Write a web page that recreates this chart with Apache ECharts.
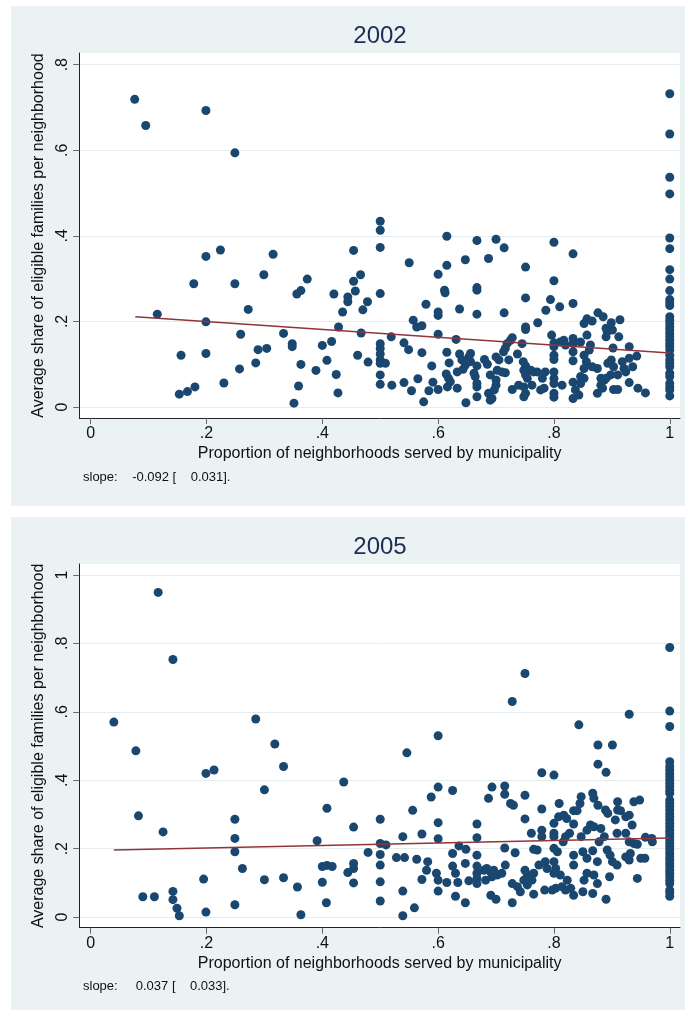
<!DOCTYPE html>
<html>
<head>
<meta charset="utf-8">
<title>Eligible families share vs. municipal coverage</title>
<script src="https://cdn.jsdelivr.net/npm/echarts@6/dist/echarts.min.js"></script>
<style>
  html, body { margin: 0; padding: 0; background: #ffffff; }
  #chart { width: 685px; height: 1010px; }
</style>
</head>
<body>
<div id="chart"></div>
<script>
// Panel titles (survey years)
const years = ['2002', '2005'];

// Axis tick values
const xTicks = [0, 0.2, 0.4, 0.6, 0.8, 1];
const yTicks2002 = [0, 0.2, 0.4, 0.6, 0.8];
const yTicks2005 = [0, 0.2, 0.4, 0.6, 0.8, 1];

// Linear fit: slope, its standard error, intercept, and fitted x-range per year
const slopes = [-0.092, 0.037];
const slopeSE = [0.031, 0.033];
const intercepts = [0.218, 0.1945];
const fitRange2002 = [0.077, 1];
const fitRange2005 = [0.040, 1];

// [proportion served by municipality, average share of eligible families]
const share2002 = [
  [0.076,0.719],[0.095,0.658],[0.199,0.693],[0.249,0.594],[0.115,0.217],[0.224,0.367],[0.199,0.352],[0.315,0.357],
  [0.178,0.288],[0.249,0.288],[0.299,0.309],[0.374,0.299],[0.272,0.228],[0.199,0.199],[0.356,0.264],[0.363,0.272],
  [0.42,0.264],[0.454,0.366],[0.466,0.309],[0.454,0.294],[0.457,0.271],[0.444,0.257],[0.444,0.246],[0.478,0.246],
  [0.435,0.222],[0.47,0.227],[0.428,0.187],[0.467,0.173],[0.259,0.170],[0.333,0.172],[0.348,0.148],[0.348,0.141],
  [0.416,0.153],[0.40,0.144],[0.156,0.121],[0.199,0.125],[0.289,0.134],[0.304,0.137],[0.285,0.103],[0.257,0.089],
  [0.363,0.0995],[0.408,0.109],[0.389,0.0855],[0.424,0.076],[0.461,0.121],[0.479,0.105],[0.23,0.056],[0.18,0.047],
  [0.167,0.036],[0.153,0.030],[0.359,0.049],[0.351,0.009],[0.427,0.033],
  [1,0.732],[1,0.638],[1,0.537],[1,0.498],[1,0.395],[1,0.370],[1,0.321],[1,0.299],[1,0.272],[1,0.251],[1,0.244],
  [1,0.237],[1,0.211],[1,0.203],[1,0.195],[1,0.187],[1,0.180],[1,0.172],[1,0.164],[1,0.156],[1,0.148],[1,0.141],
  [1,0.133],[1,0.121],[1,0.110],[1,0.102],[1,0.094],[1,0.079],[1,0.071],[1,0.055],[1,0.047],[1,0.040],[1,0.026],
  [0.5,0.434],[0.5,0.413],[0.5,0.373],[0.5,0.265],[0.5,0.148],[0.5,0.137],[0.5,0.124],[0.5,0.110],[0.5,0.102],
  [0.5,0.075],[0.5,0.053],[0.509,0.102],[0.519,0.164],[0.52,0.051],[0.541,0.057],[0.541,0.150],[0.549,0.134],
  [0.55,0.337],[0.554,0.038],[0.557,0.203],[0.563,0.187],[0.572,0.190],[0.565,0.066],[0.572,0.127],[0.575,0.012],
  [0.579,0.240],[0.584,0.038],[0.589,0.096],[0.591,0.058],[0.6,0.310],[0.6,0.222],[0.6,0.214],[0.6,0.170],[0.6,0.041],
  [0.611,0.273],[0.612,0.267],[0.615,0.399],[0.615,0.331],[0.615,0.128],[0.619,0.103],[0.614,0.077],[0.618,0.067],
  [0.621,0.059],[0.616,0.047],[0.631,0.158],[0.633,0.044],[0.637,0.229],[0.633,0.082],[0.637,0.124],[0.641,0.110],
  [0.647,0.098],[0.643,0.088],[0.647,0.344],[0.656,0.125],[0.656,0.106],[0.653,0.117],[0.648,0.010],[0.667,0.389],
  [0.667,0.279],[0.667,0.273],[0.667,0.217],[0.667,0.096],[0.667,0.055],[0.667,0.047],[0.667,0.024],[0.662,0.079],
  [0.664,0.071],[0.68,0.111],[0.685,0.100],[0.690,0.075],[0.687,0.032],[0.693,0.020],[0.690,0.016],[0.687,0.347],
  [0.7,0.392],[0.7,0.117],[0.705,0.110],[0.702,0.086],[0.7,0.063],[0.7,0.051],[0.697,0.040],[0.714,0.372],[0.714,0.220],
  [0.71,0.082],[0.716,0.080],[0.719,0.148],[0.716,0.137],[0.713,0.129],[0.725,0.156],[0.728,0.162],[0.722,0.110],
  [0.728,0.041],[0.737,0.124],[0.739,0.051],[0.745,0.148],[0.751,0.327],[0.751,0.255],[0.751,0.187],[0.751,0.181],
  [0.747,0.106],[0.751,0.096],[0.748,0.086],[0.751,0.075],[0.754,0.067],[0.748,0.047],[0.751,0.032],[0.748,0.024],
  [0.760,0.086],[0.765,0.082],[0.762,0.051],[0.772,0.197],[0.771,0.082],[0.780,0.067],[0.783,0.044],[0.777,0.040],
  [0.785,0.082],[0.786,0.226],[0.794,0.251],[0.8,0.385],[0.8,0.295],[0.796,0.168],[0.8,0.150],[0.8,0.141],[0.8,0.121],
  [0.8,0.111],[0.8,0.082],[0.8,0.067],[0.8,0.055],[0.8,0.032],[0.8,0.023],[0.810,0.234],[0.811,0.152],[0.817,0.156],
  [0.820,0.145],[0.814,0.051],[0.833,0.358],[0.833,0.242],[0.833,0.160],[0.833,0.148],[0.833,0.129],[0.833,0.108],
  [0.833,0.058],[0.833,0.020],[0.837,0.040],[0.843,0.028],[0.846,0.152],[0.852,0.195],[0.857,0.206],[0.866,0.201],
  [0.857,0.168],[0.852,0.121],[0.856,0.106],[0.852,0.090],[0.846,0.071],[0.852,0.067],[0.846,0.055],[0.863,0.145],
  [0.861,0.133],[0.875,0.090],[0.881,0.067],[0.875,0.032],[0.876,0.220],[0.885,0.211],[0.866,0.094],[0.887,0.063],
  [0.881,0.051],[0.884,0.044],[0.890,0.184],[0.892,0.176],[0.890,0.164],[0.893,0.102],[0.899,0.110],[0.903,0.094],
  [0.898,0.075],[0.890,0.067],[0.899,0.197],[0.901,0.180],[0.914,0.204],[0.902,0.138],[0.903,0.041],[0.910,0.041],
  [0.912,0.164],[0.910,0.075],[0.918,0.106],[0.921,0.090],[0.924,0.082],[0.930,0.141],[0.930,0.114],[0.930,0.057],
  [0.936,0.094],[0.943,0.119],[0.945,0.044],[0.958,0.033]
];

const share2005 = [
  [0.040,0.570],[0.078,0.486],[0.0825,0.296],[0.1165,0.949],[0.142,0.753],[0.125,0.249],[0.09,0.0595],[0.11,0.0595],
  [0.142,0.075],[0.142,0.051],[0.149,0.026],[0.153,0.004],[0.199,0.420],[0.213,0.430],[0.195,0.111],[0.199,0.0146],
  [0.249,0.286],[0.249,0.230],[0.249,0.191],[0.262,0.142],[0.249,0.036],[0.285,0.579],[0.318,0.506],[0.333,0.440],
  [0.30,0.372],[0.30,0.109],[0.333,0.115],[0.357,0.088],[0.363,0.007],[0.391,0.223],[0.40,0.148],[0.408,0.151],
  [0.417,0.148],[0.40,0.102],[0.407,0.042],[0.408,0.318],[0.437,0.395],[0.454,0.263],[0.454,0.157],[0.454,0.142],
  [0.444,0.130],[0.454,0.100],[0.479,0.189],
  [1,0.788],[1,0.602],[1,0.557],[1,0.454],[1,0.440],[1,0.430],[1,0.420],[1,0.410],[1,0.401],[1,0.391],[1,0.381],
  [1,0.371],[1,0.362],[1,0.342],[1,0.332],[1,0.323],[1,0.313],[1,0.303],[1,0.293],[1,0.284],[1,0.274],[1,0.264],
  [1,0.254],[1,0.245],[1,0.235],[1,0.225],[1,0.215],[1,0.206],[1,0.196],[1,0.186],[1,0.176],[1,0.167],[1,0.157],
  [1,0.147],[1,0.137],[1,0.128],[1,0.118],[1,0.108],[1,0.098],[1,0.079],[1,0.071],[1,0.061],
  [0.5,0.286],[0.5,0.215],[0.510,0.211],[0.5,0.183],[0.5,0.152],[0.5,0.103],[0.5,0.047],[0.528,0.174],[0.542,0.174],
  [0.539,0.076],[0.539,0.004],[0.539,0.235],[0.546,0.480],[0.556,0.312],[0.559,0.027],[0.563,0.169],[0.572,0.243],
  [0.572,0.110],[0.582,0.162],[0.58,0.137],[0.588,0.351],[0.597,0.128],[0.6,0.108],[0.6,0.076],[0.615,0.101],
  [0.6,0.530],[0.6,0.380],[0.6,0.276],[0.6,0.229],[0.625,0.370],[0.625,0.186],[0.625,0.149],[0.630,0.128],
  [0.634,0.101],[0.630,0.061],[0.647,0.042],[0.636,0.208],[0.648,0.198],[0.647,0.157],[0.653,0.106],[0.667,0.272],
  [0.667,0.232],[0.667,0.181],[0.667,0.149],[0.667,0.128],[0.667,0.113],[0.667,0.098],[0.679,0.137],[0.684,0.142],
  [0.690,0.133],[0.696,0.137],[0.682,0.108],[0.693,0.118],[0.702,0.123],[0.710,0.128],[0.716,0.152],[0.687,0.347],
  [0.693,0.380],[0.691,0.064],[0.700,0.052],[0.715,0.383],[0.715,0.359],[0.725,0.332],[0.730,0.327],[0.728,0.630],
  [0.715,0.202],[0.733,0.188],[0.728,0.098],[0.737,0.089],[0.742,0.074],[0.728,0.042],[0.750,0.356],[0.750,0.287],
  [0.750,0.712],[0.750,0.137],[0.754,0.123],[0.748,0.108],[0.760,0.118],[0.754,0.094],[0.765,0.128],[0.762,0.108],
  [0.765,0.067],[0.761,0.245],[0.765,0.198],[0.771,0.196],[0.779,0.422],[0.779,0.316],[0.779,0.254],[0.779,0.235],
  [0.774,0.152],[0.785,0.162],[0.788,0.142],[0.784,0.079],[0.8,0.415],[0.8,0.274],[0.8,0.245],[0.8,0.235],[0.8,0.201],
  [0.806,0.191],[0.8,0.162],[0.803,0.142],[0.8,0.128],[0.803,0.084],[0.811,0.123],[0.814,0.089],[0.797,0.079],
  [0.809,0.332],[0.808,0.293],[0.817,0.298],[0.822,0.288],[0.816,0.220],[0.820,0.235],[0.827,0.245],[0.823,0.108],
  [0.829,0.084],[0.834,0.064],[0.820,0.079],[0.834,0.311],[0.840,0.311],[0.834,0.272],[0.834,0.181],[0.834,0.152],
  [0.843,0.562],[0.847,0.352],[0.845,0.332],[0.847,0.235],[0.850,0.191],[0.857,0.172],[0.852,0.108],[0.850,0.074],
  [0.857,0.128],[0.857,0.254],[0.863,0.269],[0.869,0.264],[0.881,0.259],[0.867,0.362],[0.869,0.347],[0.876,0.327],
  [0.876,0.503],[0.901,0.503],[0.876,0.447],[0.890,0.423],[0.867,0.194],[0.875,0.162],[0.869,0.123],[0.875,0.098],
  [0.867,0.069],[0.878,0.220],[0.887,0.235],[0.889,0.313],[0.893,0.303],[0.910,0.337],[0.910,0.313],[0.915,0.311],
  [0.906,0.284],[0.924,0.293],[0.930,0.298],[0.892,0.196],[0.897,0.181],[0.901,0.162],[0.909,0.152],[0.896,0.118],
  [0.909,0.245],[0.924,0.245],[0.930,0.593],[0.930,0.220],[0.938,0.215],[0.944,0.213],[0.924,0.176],[0.932,0.186],
  [0.930,0.167],[0.935,0.269],[0.938,0.337],[0.948,0.342],[0.944,0.113],[0.950,0.172],[0.957,0.172],[0.958,0.233],
  [0.969,0.230],[0.970,0.220],[0.890,0.052]
];

const FONT = '"Liberation Sans", Arial, Helvetica, sans-serif';
const NAVY = '#1a476f';
const MAROON = '#90353b';
const PANEL_BG = '#eaf2f3';

// Stata-style tick labels: 0, .2, .4 ... 1
function tickText(v) {
  const r = Math.round(v * 1000) / 1000;
  if (r === 0) return '0';
  if (r === 1) return '1';
  return String(r).replace(/^0\./, '.').replace(/^-0\./, '-.');
}

function pad(s, w) { while (s.length < w) s = ' ' + s; return s; }
function slopeText(i) {
  return 'slope: ' + pad(slopes[i].toFixed(3), 9) + ' [' + pad(slopeSE[i].toFixed(3), 9) + '].';
}

function fitLine(i, range) {
  return range.map(x => [x, intercepts[i] + slopes[i] * x]);
}

// Panel geometry (pixels)
const panels = [
  { bgTop: 6, bgH: 500, plotTop: 53, plotH: 365, yMin: -0.0257, yMax: 0.8273, yTicks: yTicks2002 },
  { bgTop: 517, bgH: 493, plotTop: 564, plotH: 363.7, yMin: -0.031, yMax: 1.032, yTicks: yTicks2005 }
];
const PLOT_LEFT = 79.3, PLOT_RIGHT = 5;
const X_MIN = -0.0197, X_MAX = 1.0177;

const chart = echarts.init(document.getElementById('chart'), null, { renderer: 'canvas' });

const grids = panels.map(p => ({
  left: PLOT_LEFT, right: PLOT_RIGHT, top: p.plotTop, height: p.plotH,
  show: true, backgroundColor: '#ffffff', borderWidth: 0
}));

const xAxes = panels.map((p, i) => ({
  type: 'value', gridIndex: i, min: X_MIN, max: X_MAX,
  name: 'Proportion of neighborhoods served by municipality',
  nameLocation: 'middle', nameGap: 28,
  nameTextStyle: { fontFamily: FONT, fontSize: 16, color: '#111' },
  axisLine: { show: true, onZero: false, lineStyle: { color: '#222', width: 1 } },
  axisTick: { show: true, customValues: xTicks, length: 6, lineStyle: { color: '#666', width: 1 } },
  axisLabel: { show: true, customValues: xTicks, formatter: tickText, margin: 8,
               fontFamily: FONT, fontSize: 16, color: '#111' },
  splitLine: { show: false }
}));

const yAxes = panels.map((p, i) => ({
  type: 'value', gridIndex: i, min: p.yMin, max: p.yMax,
  name: 'Average share of eligible families per neighborhood',
  nameLocation: 'middle', nameGap: 30, nameRotate: 90,
  nameTextStyle: { fontFamily: FONT, fontSize: 16, color: '#111' },
  axisLine: { show: true, onZero: false, lineStyle: { color: '#222', width: 1 } },
  axisTick: { show: true, customValues: p.yTicks, length: 6, lineStyle: { color: '#666', width: 1 } },
  axisLabel: { show: true, customValues: p.yTicks, formatter: tickText, rotate: 90, margin: 9,
               fontFamily: FONT, fontSize: 16, color: '#111' },
  splitLine: { show: true, customValues: p.yTicks, lineStyle: { color: '#e3ecef', width: 1 } }
}));

const data = [share2002, share2005];
const ranges = [fitRange2002, fitRange2005];
const series = [];
data.forEach((d, i) => {
  series.push({
    type: 'scatter', xAxisIndex: i, yAxisIndex: i, data: d,
    symbol: 'circle', symbolSize: 9, itemStyle: { color: NAVY, opacity: 1 },
    silent: true, z: 2, clip: false
  });
  series.push({
    type: 'line', xAxisIndex: i, yAxisIndex: i, data: fitLine(i, ranges[i]),
    showSymbol: false, lineStyle: { color: MAROON, width: 1.5 }, silent: true, z: 3
  });
});

const graphic = [];
panels.forEach((p, i) => {
  graphic.push({
    type: 'rect', z: -10, silent: true,
    shape: { x: 11, y: p.bgTop, width: 674, height: p.bgH },
    style: { fill: PANEL_BG }
  });
  graphic.push({
    type: 'text', z: 10, silent: true, x: 380, y: p.plotTop - 17,
    style: { text: years[i], fontFamily: FONT, fontSize: 24, fill: '#1e2d53',
             textAlign: 'center', textVerticalAlign: 'middle' }
  });
  graphic.push({
    type: 'text', z: 10, silent: true, x: 83, y: p.plotTop + p.plotH + 59,
    style: { text: slopeText(i), fontFamily: FONT, fontSize: 13, fill: '#111',
             textAlign: 'left', textVerticalAlign: 'middle' }
  });
});

chart.setOption({
  backgroundColor: '#ffffff',
  animation: false,
  grid: grids,
  xAxis: xAxes,
  yAxis: yAxes,
  series: series,
  graphic: graphic
});
</script>
</body>
</html>
